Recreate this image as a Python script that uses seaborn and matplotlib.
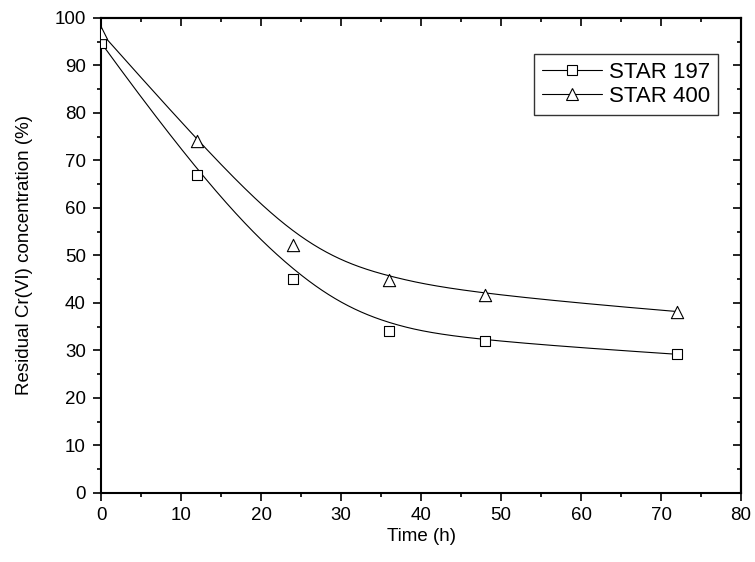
import matplotlib

matplotlib.use("Agg")
import matplotlib.pyplot as plt
import numpy as np
import pandas as pd
import seaborn as sns
from matplotlib.lines import Line2D
from matplotlib.ticker import MultipleLocator, NullFormatter

# data
time_h = [0, 12, 24, 36, 48, 72]
star197 = [94.8, 67.0, 45.0, 34.2, 31.9, 29.2]
star400 = [96.9, 74.2, 52.3, 44.9, 41.6, 38.2]
series_names = ["STAR 197", "STAR 400"]
series_markers = ["s", "^"]


def bspline_curve(xs, ys, n=300, k=3):
    """Clamped B-spline using the data points as control points (Origin style)."""
    P = np.column_stack([xs, ys]).astype(float)
    m = len(P)
    inner = np.linspace(0, 1, m - k + 1)[1:-1]
    knots = np.concatenate([np.zeros(k + 1), inner, np.ones(k + 1)])
    u = np.linspace(0, 1, n)
    u[-1] -= 1e-10

    # Cox-de Boor recursion
    N = np.zeros((n, len(knots) - 1))
    for i in range(len(knots) - 1):
        N[:, i] = (u >= knots[i]) & (u < knots[i + 1])
    for d in range(1, k + 1):
        Nn = np.zeros((n, len(knots) - 1 - d))
        for i in range(len(knots) - 1 - d):
            a = knots[i + d] - knots[i]
            b = knots[i + d + 1] - knots[i + 1]
            left = (u - knots[i]) / a * N[:, i] if a > 0 else 0
            right = (knots[i + d + 1] - u) / b * N[:, i + 1] if b > 0 else 0
            Nn[:, i] = left + right
        N = Nn
    C = N @ P
    return C[:, 0], C[:, 1]


sns.set_style("ticks")
plt.rcParams["font.family"] = ["Liberation Sans", "DejaVu Sans"]
plt.rcParams["text.color"] = "black"
plt.rcParams["axes.labelcolor"] = "black"
plt.rcParams["axes.edgecolor"] = "black"

fig = plt.figure(figsize=(7.55, 5.62), dpi=100)
ax = fig.add_axes([0.1338, 0.1228, 0.8477, 0.8452])

handles = []
for name, vals, mk in zip(series_names, [star197, star400], series_markers):
    cx, cy = bspline_curve(time_h, vals)
    curve = pd.DataFrame({"t": cx, "y": cy})
    sns.lineplot(data=curve, x="t", y="y", ax=ax, color="black", lw=0.8,
                 sort=False, estimator=None)
    pts = pd.DataFrame({"t": time_h, "y": vals})
    sns.scatterplot(
        data=pts,
        x="t",
        y="y",
        ax=ax,
        marker=mk,
        s=55 if mk == "s" else 78,
        facecolor="white",
        edgecolor="black",
        linewidth=0.8,
        zorder=3,
    )
    handles.append(
        Line2D(
            [],
            [],
            color="black",
            lw=0.8,
            marker=mk,
            markersize=7 if mk == "s" else 9,
            markerfacecolor="white",
            markeredgecolor="black",
            markeredgewidth=0.8,
            label=name,
        )
    )

ax.set_xlim(0, 80)
ax.set_ylim(0, 100)
for axis in [ax.xaxis, ax.yaxis]:
    axis.set_major_locator(MultipleLocator(10))
    axis.set_minor_locator(MultipleLocator(5))
ax.tick_params(which="both", direction="out", labelsize=13.5, width=1.2,
               colors="black")
ax.tick_params(which="major", length=6)
ax.tick_params(which="minor", length=3)
ax.tick_params(axis="x", pad=4)
ax.tick_params(axis="y", pad=5)
for side in ["top", "bottom", "left", "right"]:
    ax.spines[side].set_linewidth(1.5)
    ax.spines[side].set_visible(True)

# top / right ticks point inward, no labels
top = ax.secondary_xaxis("top")
right = ax.secondary_yaxis("right")
for sec, axis in [(top, top.xaxis), (right, right.yaxis)]:
    axis.set_major_locator(MultipleLocator(10))
    axis.set_minor_locator(MultipleLocator(5))
    axis.set_major_formatter(NullFormatter())
    axis.set_minor_formatter(NullFormatter())
    sec.tick_params(which="both", direction="in", width=1.2, colors="black")
    sec.tick_params(which="major", length=6)
    sec.tick_params(which="minor", length=3)
    for sp in sec.spines.values():
        sp.set_linewidth(1.5)

ax.set_xlabel("Time (h)", fontsize=13.5, labelpad=3)
ax.set_ylabel("Residual Cr(VI) concentration (%)", fontsize=13.5)
ax.yaxis.set_label_coords(-0.106, 0.5)

leg = ax.legend(
    handles=handles,
    loc="upper right",
    bbox_to_anchor=(0.964, 0.924),
    borderaxespad=0,
    fontsize=16,
    frameon=True,
    fancybox=False,
    handlelength=2.7,
    handletextpad=0.33,
    borderpad=0.36,
    labelspacing=0.12,
)
leg.get_frame().set_edgecolor("black")
leg.get_frame().set_linewidth(1.0)

fig.savefig("out.png", dpi=100)
